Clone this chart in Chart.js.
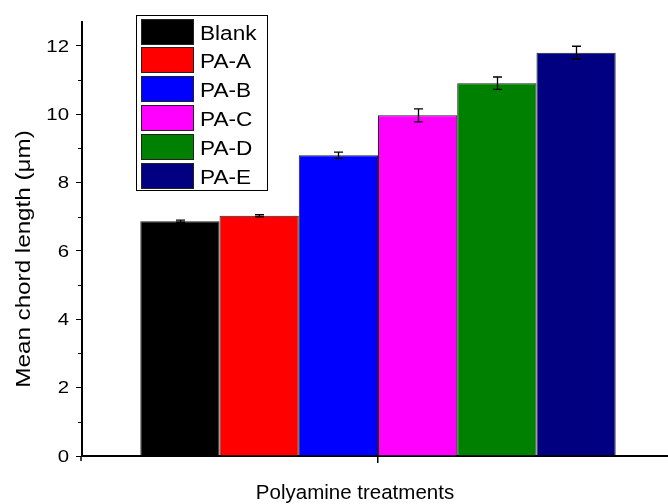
<!DOCTYPE html>
<html>
<head>
<meta charset="utf-8">
<script src="https://cdn.jsdelivr.net/npm/chart.js@4/dist/chart.umd.min.js"></script>
<style>
  html, body { margin: 0; padding: 0; background: #fff; overflow: hidden; }
  #wrap { width: 668px; height: 504px; overflow: hidden; }
</style>
</head>
<body>
<!-- plot runs a little past the right edge, as in the original -->
<div id="wrap"><canvas id="barChart" width="674" height="504"></canvas></div>
<script>
// data
var treatments = ['Blank', 'PA-A', 'PA-B', 'PA-C', 'PA-D', 'PA-E'];
var chordLength = [6.87, 7.03, 8.80, 9.97, 10.91, 11.80];
var chordError = [0.03, 0.03, 0.09, 0.19, 0.18, 0.19];
var barColors = ['#000000', '#ff0000', '#0000ff', '#ff00ff', '#008000', '#000080'];
var yTicks = [0, 2, 4, 6, 8, 10, 12];
var yMinor = [1, 3, 5, 7, 9, 11];
var xTitle = 'Polyamine treatments';
var yTitle = 'Mean chord length (μm)';

var fontFam = 'Arial, "Liberation Sans", sans-serif';

// text is a bit wider than plain Arial in the original, stretch it
function stretchText(ctx, txt, x, y, sx, align) {
	var w = ctx.measureText(txt).width * sx;
	var x0 = align === 'right' ? x - w : (align === 'center' ? x - w / 2 : x);
	ctx.save();
	ctx.translate(x0, y);
	ctx.scale(sx, 1);
	ctx.textAlign = 'left';
	ctx.fillText(txt, 0, 0);
	ctx.restore();
}

// error bars on top of each bar
var errorBars = {
	id: 'errorBars',
	afterDatasetsDraw: function (chart) {
		var ctx = chart.ctx;
		var y = chart.scales.y;
		ctx.save();
		ctx.strokeStyle = '#000';
		ctx.lineWidth = 1.3;
		chart.data.datasets.forEach(function (ds, i) {
			var bar = chart.getDatasetMeta(i).data[0];
			var v = ds.data[0];
			var top = y.getPixelForValue(v + chordError[i]);
			var bot = y.getPixelForValue(v - chordError[i]);
			var x = Math.round(bar.x) + 0.5;
			ctx.beginPath();
			ctx.moveTo(x, top); ctx.lineTo(x, bot);
			ctx.moveTo(x - 4.5, top); ctx.lineTo(x + 4.5, top);
			ctx.moveTo(x - 4.5, bot); ctx.lineTo(x + 4.5, bot);
			ctx.stroke();
		});
		ctx.restore();
	}
};

// tick labels, minor ticks and axis titles
var axisText = {
	id: 'axisText',
	afterDraw: function (chart) {
		var ctx = chart.ctx;
		var y = chart.scales.y;
		var left = chart.chartArea.left, bottom = chart.chartArea.bottom;
		ctx.save();
		ctx.strokeStyle = '#000';
		ctx.lineWidth = 1;
		yMinor.forEach(function (v) {
			var py = Math.round(y.getPixelForValue(v)) + 0.5;
			ctx.beginPath();
			ctx.moveTo(left - 4, py); ctx.lineTo(left, py);
			ctx.stroke();
		});
		ctx.lineWidth = 1.5;
		ctx.beginPath();
		ctx.moveTo(left - 1, bottom); ctx.lineTo(left - 1, bottom + 5);
		ctx.stroke();

		ctx.fillStyle = '#000';
		ctx.textBaseline = 'middle';
		ctx.font = '17px ' + fontFam;
		yTicks.forEach(function (v) {
			stretchText(ctx, String(v), 69, y.getPixelForValue(v) + 1, 1.2, 'right');
		});

		ctx.textBaseline = 'alphabetic';
		ctx.font = '20.5px ' + fontFam;
		stretchText(ctx, xTitle, 355, 499, 1, 'center');

		ctx.save();
		ctx.translate(30, 259);
		ctx.rotate(-Math.PI / 2);
		ctx.font = '20px ' + fontFam;
		stretchText(ctx, yTitle, 0, 0, 1.21, 'center');
		ctx.restore();
		ctx.restore();
	}
};

// boxed legend at the top left of the plot
var boxLegend = {
	id: 'boxLegend',
	afterDraw: function (chart) {
		var ctx = chart.ctx;
		var x0 = 136.5, y0 = 15.5, w = 131, rowH = 28.9;
		ctx.save();
		ctx.fillStyle = '#fff';
		ctx.fillRect(x0, y0, w, 175);
		ctx.strokeStyle = '#000';
		ctx.lineWidth = 1;
		ctx.strokeRect(x0, y0, w, 175);
		ctx.font = '20px ' + fontFam;
		ctx.textBaseline = 'alphabetic';
		chart.data.datasets.forEach(function (ds, i) {
			var ry = Math.round(y0 + 3 + i * rowH) + 0.5;
			ctx.fillStyle = ds.backgroundColor;
			ctx.fillRect(141.5, ry, 52, 25);
			ctx.strokeStyle = '#222';
			ctx.strokeRect(141.5, ry, 52, 25);
			ctx.fillStyle = '#000';
			stretchText(ctx, ds.label, 200, ry + 20.5, 1.13, 'left');
		});
		ctx.restore();
	}
};

var datasets = treatments.map(function (t, i) {
	return {
		label: t,
		data: [chordLength[i]],
		backgroundColor: barColors[i],
		borderColor: '#222',
		borderWidth: 1,
		barPercentage: 1,
		categoryPercentage: 0.803
	};
});

var context = document.getElementById('barChart').getContext('2d');
var myChart = new Chart(context, {
	type: 'bar',
	data: { labels: [''], datasets: datasets },
	options: {
		responsive: false,
		animation: false,
		layout: { padding: { top: 22, right: 0, left: 0, bottom: 0 } },
		plugins: {
			legend: { display: false },
			tooltip: { enabled: false }
		},
		scales: {
			x: {
				grid: { display: true, drawOnChartArea: false, offset: false, tickLength: 7, color: '#000', lineWidth: 1.5 },
				border: { display: true, color: '#000', width: 2 },
				ticks: { display: false },
				afterFit: function (s) { s.height = 48; }
			},
			y: {
				min: 0,
				max: 12.7,
				afterBuildTicks: function (s) {
					s.ticks = yTicks.map(function (v) { return { value: v }; });
				},
				grid: { display: true, drawOnChartArea: false, tickLength: 6, color: '#000' },
				border: { display: true, color: '#000', width: 2 },
				ticks: { display: false },
				afterFit: function (s) { s.width = 82; }
			}
		}
	},
	plugins: [errorBars, axisText, boxLegend]
});
</script>
</body>
</html>
